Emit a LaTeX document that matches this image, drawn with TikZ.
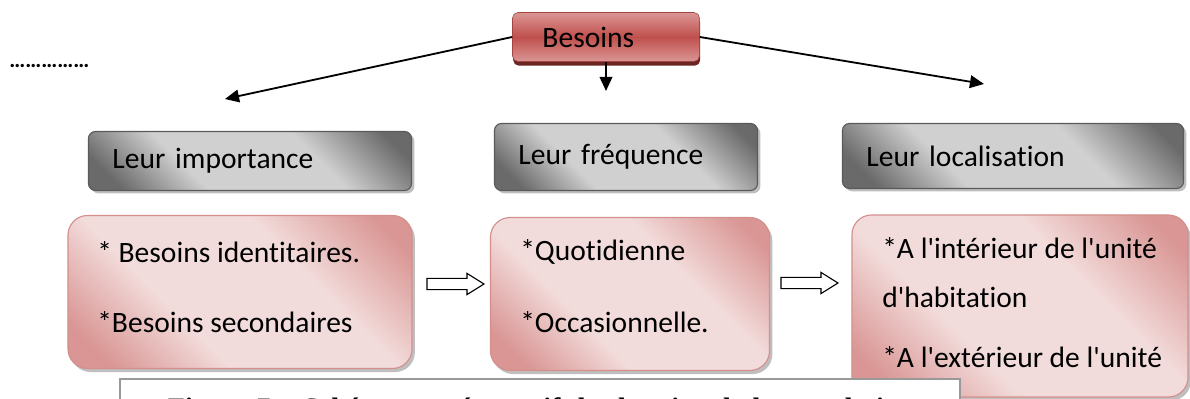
\documentclass[tikz,border=0pt]{standalone}
\usepackage{fontspec}
\setmainfont{Carlito}[Ligatures={TeX,NoCommon}]
\newfontfamily\capfont{Liberation Serif}
\definecolor{needred}{HTML}{C0504D}
\definecolor{needlight}{HTML}{DA9694}
\definecolor{needshade}{HTML}{6B2624}
\definecolor{pinkdark}{HTML}{D99694}
\definecolor{pinklight}{HTML}{F2DCDB}
\definecolor{pinkline}{HTML}{D48F8C}
\definecolor{greydark}{HTML}{6A6A6A}
\definecolor{greylight}{HTML}{D0D0D0}
\definecolor{greyline}{HTML}{5A5A5A}
\usepackage{tikz}
\usetikzlibrary{arrows.meta,shapes.arrows,shadows}
\newcommand{\aq}{\textquotesingle}
\pgfdeclarehorizontalshading{greyglow}{100bp}{color(0bp)=(greydark); color(21bp)=(greydark);
  color(37bp)=(greylight); color(63bp)=(greylight); color(80bp)=(greydark); color(100bp)=(greydark)}
\pgfdeclarehorizontalshading{pinkglow}{100bp}{color(0bp)=(pinkdark); color(21bp)=(pinkdark);
  color(38bp)=(pinklight); color(62bp)=(pinklight); color(80bp)=(pinkdark); color(100bp)=(pinkdark)}

\begin{document}
\begin{tikzpicture}[x=0.025cm,y=-0.025cm,
    needbox/.style={draw=needred!85!black,rounded corners=4pt,
      top color=needlight,bottom color=needlight,middle color=needred,
      drop shadow={shadow xshift=0.5pt,shadow yshift=-3pt,fill=needshade,opacity=1},
      minimum height=1.225cm,text width=3.175cm,inner xsep=0.75cm,align=left,
      font=\fontsize{21}{25}\selectfont},
    headbox/.style={draw=greyline,thick,rounded corners=5pt,
      shading=greyglow,shading angle=45,
      drop shadow={shadow xshift=2pt,shadow yshift=-2pt,fill=black,opacity=0.25},
      inner xsep=0.6cm,align=left,font=\fontsize{21}{25}\selectfont},
    listbox/.style={draw=pinkline,thick,rounded corners=14pt,inner sep=0pt,
      shading=pinkglow,shading angle=45,
      drop shadow={shadow xshift=2pt,shadow yshift=-2.5pt,fill=black,opacity=0.25}},
    listtext/.style={anchor=west,inner sep=0pt,font=\fontsize{21}{25}\selectfont},
    hollow/.style={single arrow,draw,thick,fill=white,minimum height=1.425cm,
      single arrow head extend=0.125cm,inner ysep=0.125cm,inner xsep=0pt,
      single arrow tip angle=64},
    link/.style={line width=1.3pt,-{Triangle[length=10pt,width=9pt]}}]
  \useasboundingbox (0,0) rectangle (1190,399);
  \node[anchor=west,inner sep=0pt,font=\fontsize{16}{18}\selectfont\bfseries] (dots) at (9,66) {……………};
  \node[needbox] (needs) at (606,37) {Besoins};
  \coordinate (tipL) at (225,99);
  \coordinate (tipM) at (606,91);
  \coordinate (tipR) at (984,84);
  \draw[link] (needs.west) -- (tipL);
  \draw[link] (needs.south) -- (tipM);
  \draw[link] (needs.east) -- (tipR);

  \node[headbox,text width=6.875cm,minimum height=1.475cm] (imphead) at (250,161) {Leur importance};
  \node[headbox,text width=5.375cm,minimum height=1.675cm] (freqhead) at (626,157) {Leur fréquence};
  \node[headbox,text width=7.325cm,minimum height=1.625cm] (lochead) at (1013,156) {Leur localisation};

  \node[listbox,minimum width=8.6cm,minimum height=3.825cm] (impbox) at (240,292) {};
  \node[listbox,minimum width=6.975cm,minimum height=3.825cm] (freqbox) at (630,294) {};
  \node[listbox,minimum width=8.4cm,minimum height=4.55cm] (locbox) at (1020,306) {};
  \node[listtext] (imp1) at (97,252) {* Besoins identitaires.};
  \node[listtext] (imp2) at (97,322) {*Besoins secondaires};
  \node[listtext] (freq1) at (520,252) {*Quotidienne};
  \node[listtext] (freq2) at (520,322) {*Occasionnelle.};
  \node[listtext] (loc1) at (882,248) {*A l\aq intérieur de l\aq unité};
  \node[listtext] (loc2) at (882,297) {d\aq habitation};
  \node[listtext] (loc3) at (882,357) {*A l\aq extérieur de l\aq unité};

  \node[hollow] (step1) at (451,284) {};
  \node[hollow] (step2) at (805,283) {};

  \node[draw=gray!80,line width=1pt,fill=white,minimum width=21cm,minimum height=1.6cm,
    text width=18.6cm,inner xsep=1.2cm,align=left,
    font=\capfont\bfseries\fontsize{20}{24}\selectfont] (caption) at (540,411)
    {\mbox{Figure 7 : Schéma représentatif des besoins de la population}};
\end{tikzpicture}
\end{document}
